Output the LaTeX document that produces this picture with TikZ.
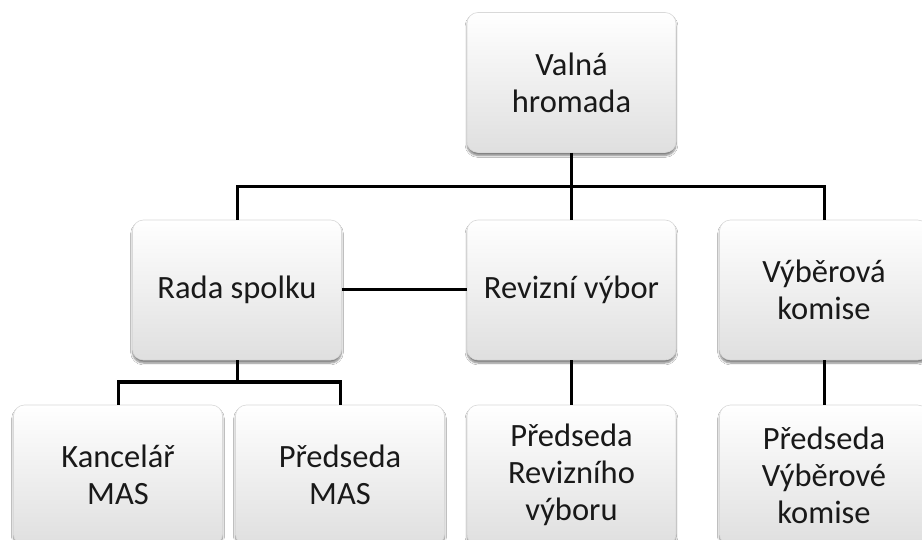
\documentclass[tikz,border=0pt]{standalone}
\usepackage{fontspec}
\setmainfont{Carlito}
\usetikzlibrary{shadows.blur}
\begin{document}
\begin{tikzpicture}[x=1pt,y=-1pt,
  box/.style={rectangle, rounded corners=11pt, draw=gray!30, line width=0.6pt,
    top color=white, bottom color=gray!25, minimum width=209pt, minimum height=140pt,
    align=center, font=\fontsize{32.5}{37}\selectfont, text=black!90, inner sep=2pt,
    blur shadow={shadow xshift=0pt, shadow yshift=-3pt, shadow blur steps=6, shadow opacity=50}},
  conn/.style={line width=3pt, black}]
\useasboundingbox (0,0) rectangle (922,540);
\fill[white] (0,0) rectangle (922,540);
\begin{scope}
\clip (0,0) rectangle (922,540);
\node[box] (vh) at (571.5,82.5) {Valná\\hromada};
\node[box] (rs) at (237,290) {Rada spolku};
\node[box] (rv) at (571.5,290) {Revizní výbor};
\node[box] (vk) at (824,290) {Výběrová\\komise};
\node[box] (km) at (118,475) {Kancelář\\MAS};
\node[box] (pm) at (340,475) {Předseda\\MAS};
\node[box] (pr) at (571.5,475) {Předseda\\Revizního\\výboru};
\node[box] (pv) at (824,475) {Předseda\\Výběrové\\komise};
\coordinate (bus1) at (571.5,187);
\coordinate (bus2) at (237,382);
\draw[conn] (vh.south) -- (bus1);
\draw[conn] (rs.north) |- (bus1);
\draw[conn] (vk.north) |- (bus1);
\draw[conn] (bus1) -- (rv.north);
\draw[conn] (rs.east) -- (rv.west);
\draw[conn] (rs.south) -- (bus2);
\draw[conn] (km.north) |- (bus2);
\draw[conn] (pm.north) |- (bus2);
\draw[conn] (rv.south) -- (pr.north);
\draw[conn] (vk.south) -- (pv.north);
\end{scope}
\end{tikzpicture}
\end{document}
